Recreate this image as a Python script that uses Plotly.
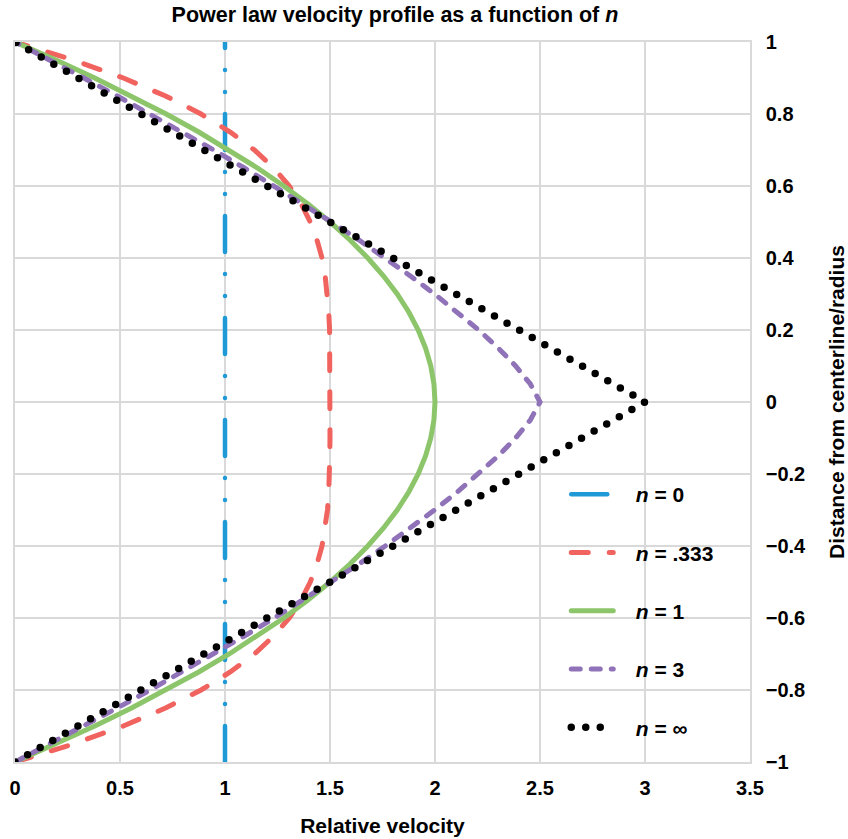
import plotly.graph_objects as go

# Position across the pipe (distance from centerline / radius)
y_pos = [-1.00, -0.95, -0.90, -0.85, -0.80, -0.75, -0.70, -0.65, -0.60, -0.55,
         -0.50, -0.45, -0.40, -0.35, -0.30, -0.25, -0.20, -0.15, -0.10, -0.05,
         0.00, 0.05, 0.10, 0.15, 0.20, 0.25, 0.30, 0.35, 0.40, 0.45,
         0.50, 0.55, 0.60, 0.65, 0.70, 0.75, 0.80, 0.85, 0.90, 0.95, 1.00]

# Relative velocity for each flow-behaviour index n
u_n0 = [1.0, 1.0, 1.0, 1.0, 1.0, 1.0, 1.0, 1.0, 1.0, 1.0,
        1.0, 1.0, 1.0, 1.0, 1.0, 1.0, 1.0, 1.0, 1.0, 1.0,
        1.0, 1.0, 1.0, 1.0, 1.0, 1.0, 1.0, 1.0, 1.0, 1.0,
        1.0, 1.0, 1.0, 1.0, 1.0, 1.0, 1.0, 1.0, 1.0, 1.0, 1.0]
u_n0333 = [0.000, 0.278, 0.516, 0.717, 0.886, 1.025, 1.140, 1.232, 1.306, 1.363,
           1.406, 1.438, 1.462, 1.477, 1.488, 1.494, 1.498, 1.499, 1.500, 1.500,
           1.500, 1.500, 1.500, 1.499, 1.498, 1.494, 1.488, 1.477, 1.462, 1.438,
           1.406, 1.363, 1.306, 1.232, 1.140, 1.025, 0.886, 0.717, 0.516, 0.278, 0.000]
u_n1 = [0.000, 0.195, 0.380, 0.555, 0.720, 0.875, 1.020, 1.155, 1.280, 1.395,
        1.500, 1.595, 1.680, 1.755, 1.820, 1.875, 1.920, 1.955, 1.980, 1.995,
        2.000, 1.995, 1.980, 1.955, 1.920, 1.875, 1.820, 1.755, 1.680, 1.595,
        1.500, 1.395, 1.280, 1.155, 1.020, 0.875, 0.720, 0.555, 0.380, 0.195, 0.000]
u_n3 = [0.000, 0.165, 0.328, 0.487, 0.643, 0.796, 0.946, 1.092, 1.235, 1.373,
        1.508, 1.638, 1.763, 1.883, 1.998, 2.106, 2.208, 2.301, 2.384, 2.454,
        2.500, 2.454, 2.384, 2.301, 2.208, 2.106, 1.998, 1.883, 1.763, 1.638,
        1.508, 1.373, 1.235, 1.092, 0.946, 0.796, 0.643, 0.487, 0.328, 0.165, 0.000]
u_ninf = [0.00, 0.15, 0.30, 0.45, 0.60, 0.75, 0.90, 1.05, 1.20, 1.35,
          1.50, 1.65, 1.80, 1.95, 2.10, 2.25, 2.40, 2.55, 2.70, 2.85,
          3.00, 2.85, 2.70, 2.55, 2.40, 2.25, 2.10, 1.95, 1.80, 1.65,
          1.50, 1.35, 1.20, 1.05, 0.90, 0.75, 0.60, 0.45, 0.30, 0.15, 0.00]

labels = ["<i>n</i> = 0", "<i>n</i> = .333", "<i>n</i> = 1", "<i>n</i> = 3", "<i>n</i> = \u221e"]

x_ticks = [0, 0.5, 1, 1.5, 2, 2.5, 3, 3.5]
x_ticktext = ["0", "0.5", "1", "1.5", "2", "2.5", "3", "3.5"]
y_ticks = [-1, -0.8, -0.6, -0.4, -0.2, 0, 0.2, 0.4, 0.6, 0.8, 1]
y_ticktext = ["\u22121", "\u22120.8", "\u22120.6", "\u22120.4", "\u22120.2", "0",
              "0.2", "0.4", "0.6", "0.8", "1"]

series = [
    (u_n0, labels[0], dict(color="#1f9ad6", width=4.5, dash="36px,22px,0px,22px,0px,22px")),
    (u_n0333, labels[1], dict(color="#f0635e", width=5, dash="17px,21px")),
    (u_n1, labels[2], dict(color="#8cc56a", width=5, dash="solid")),
    (u_n3, labels[3], dict(color="#8f72b8", width=5, dash="9px,11px")),
    (u_ninf, labels[4], dict(color="#000000", width=7.5, dash="0px,14.5px")),
]

FONT = "Arial, Liberation Sans, Helvetica, sans-serif"
PAD = "&nbsp;&nbsp;&nbsp;"

fig = go.Figure()
for i, (xs, name, line) in enumerate(series):
    fig.add_trace(go.Scatter(x=xs, y=y_pos, mode="lines", name=f"<b>{PAD}{name}</b>",
                             line=line, legendgroup=f"g{i}"))

grid = "#d9d9d9"
fig.update_layout(
    width=848, height=839,
    margin=dict(l=15, r=98, t=42, b=77),
    paper_bgcolor="white", plot_bgcolor="white",
    font=dict(family=FONT, color="#000000"),
    title=dict(text="<b>Power law velocity profile as a function of <i>n</i></b>",
               x=395 / 848, xanchor="center", y=1 - 14 / 839, yanchor="middle",
               font=dict(size=21.5)),
    showlegend=True,
    legend=dict(x=0.75, y=0.40, xanchor="left", yanchor="top",
                font=dict(size=21, family=FONT), tracegroupgap=28,
                bgcolor="rgba(255,255,255,0)", itemwidth=42),
    xaxis=dict(range=[0, 3.5], tickvals=x_ticks, ticktext=[f"<b>{t}</b>" for t in x_ticktext],
               showgrid=True, gridcolor=grid, gridwidth=1.5, automargin=False,
               showline=True, linecolor=grid, linewidth=1.5, mirror=True,
               zeroline=False, ticks="outside", ticklen=7, tickcolor="rgba(0,0,0,0)",
               tickfont=dict(size=20),
               title=dict(text="<b>Relative velocity</b>", font=dict(size=21), standoff=21)),
    yaxis=dict(range=[-1, 1], side="right", tickvals=y_ticks,
               ticktext=[f"<b>{t}</b>" for t in y_ticktext],
               showgrid=True, gridcolor=grid, gridwidth=1.5, automargin=False,
               showline=True, linecolor=grid, linewidth=1.5, mirror=True,
               zeroline=False, ticks="outside", ticklen=10, tickcolor="rgba(0,0,0,0)",
               tickfont=dict(size=20),
               title=dict(text="<b>Distance from centerline/radius</b>", font=dict(size=21),
                          standoff=24)),
)

# rounded line ends so dashes and dots render as in a spreadsheet chart
post = """
var gd = document.getElementById('{plot_id}');
function rc(){ gd.querySelectorAll('path.js-line').forEach(function(p){ p.style.strokeLinecap='round'; }); }
rc();
gd.on('plotly_afterplot', rc);
"""
fig.write_html("out.html", post_script=post)
